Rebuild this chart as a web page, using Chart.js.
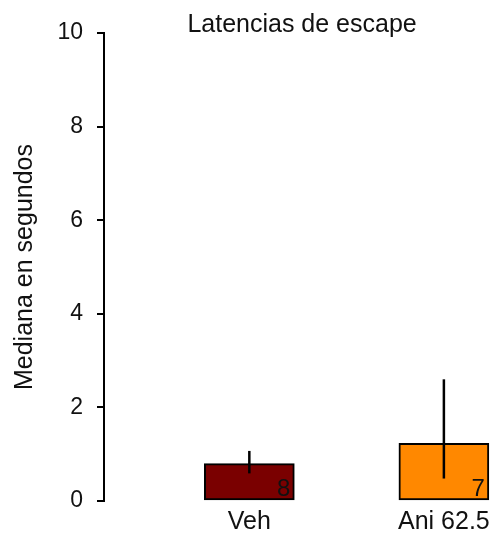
<!DOCTYPE html>
<html>
<head>
<meta charset="utf-8">
<script src="https://cdn.jsdelivr.net/npm/chart.js@4/dist/chart.umd.min.js"></script>
<style>
  html, body { margin: 0; padding: 0; background: #ffffff; }
  #wrap { width: 496px; height: 535px; position: relative; }
</style>
</head>
<body>
<div id="wrap"><canvas id="c"></canvas></div>
<script>
// Escape latencies: median per group, with interquartile whiskers and group size
const categories = ['Veh', 'Ani 62.5'];
const medians = [0.8, 1.23];
const whiskerLow = [0.59, 0.48];
const whiskerHigh = [1.07, 2.6];
const groupN = [8, 7];
const barColors = ['#7a0000', '#ff8800'];
const yTicks = [0, 2, 4, 6, 8, 10];

const FONT = '"Liberation Sans", Arial, sans-serif';

// Whiskers and group sizes drawn on top of the bars
const whiskerPlugin = {
  id: 'whiskers',
  afterDatasetsDraw(chart) {
    const ctx = chart.ctx;
    const xs = chart.scales.x, ys = chart.scales.y;
    const meta = chart.getDatasetMeta(0);
    ctx.save();
    ctx.strokeStyle = '#000';
    ctx.lineWidth = 2.5;
    categories.forEach((c, i) => {
      const x = xs.getPixelForValue(i + 1);
      ctx.beginPath();
      ctx.moveTo(x, ys.getPixelForValue(whiskerLow[i]));
      ctx.lineTo(x, ys.getPixelForValue(whiskerHigh[i]));
      ctx.stroke();
      const bar = meta.data[i];
      ctx.fillStyle = '#111';
      ctx.font = '24px ' + FONT;
      ctx.textAlign = 'right';
      ctx.textBaseline = 'alphabetic';
      ctx.fillText(String(groupN[i]), bar.x + bar.width / 2 - 4, ys.getPixelForValue(0) - 5);
    });
    ctx.restore();
  }
};

// Chart heading centred over the plotting area
const headingPlugin = {
  id: 'heading',
  afterDraw(chart) {
    const ctx = chart.ctx;
    const a = chart.chartArea;
    ctx.save();
    ctx.fillStyle = '#111';
    ctx.font = '25px ' + FONT;
    ctx.textAlign = 'center';
    ctx.textBaseline = 'alphabetic';
    ctx.fillText('Latencias de escape', (a.left + a.right) / 2 + 4, 32);
    ctx.restore();
  }
};

new Chart(document.getElementById('c'), {
  type: 'bar',
  data: {
    datasets: [{
      data: categories.map((c, i) => ({ x: i + 1, y: medians[i] })),
      backgroundColor: barColors,
      borderColor: '#000',
      borderWidth: 2,
      borderSkipped: false,
      barThickness: 90
    }]
  },
  options: {
    responsive: true,
    maintainAspectRatio: false,
    animation: false,
    layout: { padding: { top: 33, right: 2, left: 0, bottom: 0 } },
    plugins: {
      legend: { display: false },
      tooltip: { enabled: false },
      title: { display: false }
    },
    scales: {
      x: {
        type: 'linear',
        offset: false,
        min: 0.253,
        max: 2.248,
        grid: { display: false, drawTicks: false, offset: false },
        border: { display: false },
        afterBuildTicks(scale) {
          scale.ticks = categories.map((c, i) => ({ value: i + 1 }));
        },
        afterFit(scale) { scale.height = 34; },
        ticks: {
          autoSkip: false,
          maxRotation: 0,
          padding: 6,
          color: '#111',
          font: { family: FONT, size: 25 },
          callback: (v) => categories[v - 1] ?? ''
        }
      },
      y: {
        min: 0,
        max: 10,
        afterBuildTicks(scale) {
          scale.ticks = yTicks.map(v => ({ value: v }));
        },
        afterFit(scale) { scale.width = 104; },
        grid: {
          display: true,
          drawOnChartArea: false,
          drawTicks: true,
          tickLength: 7,
          color: '#000',
          lineWidth: 2
        },
        border: { display: true, color: '#000', width: 2 },
        ticks: {
          padding: 14,
          color: '#111',
          font: { family: FONT, size: 23 }
        },
        title: {
          display: true,
          text: 'Mediana en segundos',
          color: '#111',
          font: { family: FONT, size: 25 },
          padding: { top: 10, bottom: 0 }
        }
      }
    }
  },
  plugins: [whiskerPlugin, headingPlugin]
});
</script>
</body>
</html>
